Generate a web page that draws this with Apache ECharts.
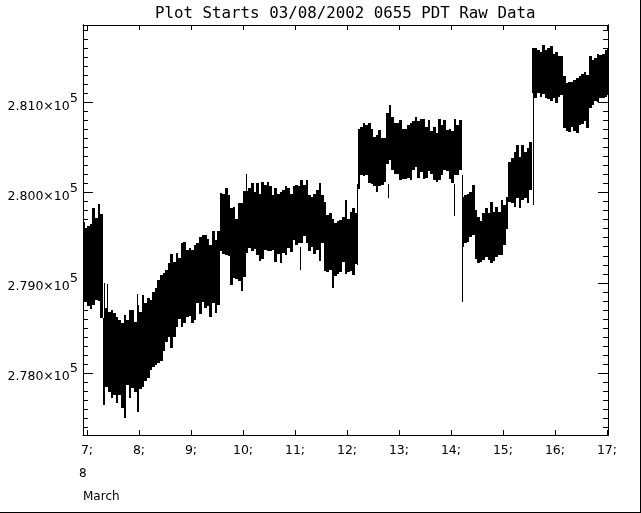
<!DOCTYPE html>
<html>
<head>
<meta charset="utf-8">
<script src="https://cdn.jsdelivr.net/npm/echarts@6/dist/echarts.min.js"></script>
<style>
html,body{margin:0;padding:0;background:#fff;}
#chart{width:640px;height:512px;border-right:1px solid #000;border-bottom:1px solid #000;}
</style>
</head>
<body>
<div id="chart"></div>
<script>
const title = "Plot Starts 03/08/2002 0655 PDT Raw Data";
const firstSampleDay = 6.93, sampleStepDays = 0.05;
// Envelope of the raw data, in hundreds of counts.
const highA = [2796.7,2796.1,2796.3,2796.5,2798.3,2797.2,2798.7,2797.6];
const lowA  = [2787.9,2788.0,2787.4,2787.1,2787.6,2788.1,2787.9,2786.1];
const highB = [2786.1,2787.2,2786.8,2787.0,2786.7,2786.2,2785.9,2785.5,2786.4,2785.9,2787.0,2787.0,2785.7,2787.5,2786.8,2788.6,2787.8,2788.3,2788.1,2789.0,2789.4,2790.3,2790.9,2791.1,2791.4,2792.2,2793.2,2792.3,2793.3,2792.7,2794.4,2794.5,2793.6,2793.9];
const lowB  = [2776.5,2778.4,2777.9,2777.2,2777.6,2776.7,2777.6,2776.1,2775.0,2778.7,2777.3,2778.4,2777.9,2775.6,2778.3,2778.4,2779.2,2779.4,2780.3,2780.7,2780.9,2781.1,2781.4,2782.5,2783.4,2784.0,2782.8,2784.0,2785.1,2785.9,2785.1,2785.5,2786.2,2786.4];
const highC = [2793.6,2794.2,2794.4,2795.1,2795.3,2795.3,2794.9,2794.2,2795.7,2794.7,2795.7,2800.0,2799.9,2800.5,2799.7,2798.3,2798.4,2797.1,2798.8,2798.8,2800.2,2800.2,2800.5,2801.1,2800.1,2801.1,2799.9,2801.2,2800.8,2801.2,2800.7,2799.7,2800.5,2799.9,2800.1,2800.3,2800.7,2800.5,2799.9,2800.7,2800.8];
const lowC  = [2785.5,2785.9,2787.7,2786.6,2787.9,2787.2,2787.5,2786.2,2787.7,2786.6,2787.5,2793.6,2793.3,2793.1,2792.9,2789.8,2790.5,2790.5,2790.1,2789.0,2790.7,2793.3,2793.8,2793.6,2793.8,2793.1,2792.5,2792.7,2793.6,2793.6,2793.5,2793.6,2792.3,2793.3,2792.2,2793.3,2793.1,2793.8,2793.5,2794.7,2794.2];
const highD = [2800.7,2801.4,2800.8,2801.4,2799.7,2799.5,2799.9,2800.3,2801.1,2799.7,2799.0,2797.5,2797.7,2797.1,2796.6,2796.8,2797.0,2797.3,2799.2,2797.1,2797.9,2798.3,2797.7,2807.1,2807.3,2807.7,2807.5,2807.7,2807.1,2806.2,2806.4,2806.9,2806.0,2806.0,2808.8,2809.7,2808.4,2807.7,2807.7,2808.0,2807.1,2807.1,2807.5];
const lowD  = [2794.4,2794.4,2795.1,2794.4,2793.5,2794.0,2793.3,2793.6,2792.5,2794.4,2791.4,2791.2,2791.4,2789.4,2790.7,2790.9,2791.2,2792.3,2791.0,2791.2,2791.4,2790.9,2792.0,2800.5,2802.0,2801.8,2802.0,2801.0,2801.0,2800.8,2800.1,2800.7,2800.8,2801.1,2803.2,2803.6,2802.5,2802.0,2802.0,2801.4,2801.6,2801.6,2801.6];
const highE = [2807.7,2807.9,2808.4,2807.9,2808.2,2808.2,2807.3,2808.0,2806.8,2807.3,2806.6,2808.2,2807.5,2808.0,2806.9,2807.1,2806.8,2808.2,2807.5,2808.0,2799.5,2799.7,2799.9,2800.1,2800.8,2798.1,2797.3,2796.8,2797.7,2798.3,2797.7,2799.0,2797.9,2798.4,2797.9,2799.2,2798.6,2799.5,2803.4,2803.8,2804.5,2805.3,2804.0];
const lowE  = [2801.4,2802.5,2802.9,2801.6,2802.3,2801.6,2801.6,2802.3,2802.0,2801.4,2801.2,2801.4,2802.0,2802.5,2802.3,2801.6,2801.0,2802.0,2802.0,2802.5,2794.0,2794.4,2794.6,2795.1,2795.3,2792.7,2792.2,2792.2,2792.5,2792.9,2792.5,2792.2,2792.5,2792.9,2793.1,2793.1,2794.2,2795.9,2799.0,2798.8,2798.4,2799.4,2798.4];
const highF = [2805.3,2804.5,2804.9,2805.6,2816.0,2816.0,2815.8,2815.6,2816.4,2815.8,2816.0,2816.2,2815.4,2815.6,2815.1,2815.1,2812.9,2812.1,2812.3,2812.3,2812.5,2812.7,2812.9,2813.2,2813.4,2813.0,2815.1,2814.7,2814.9,2815.4,2815.3,2815.4,2815.8,2816.0];
const lowF  = [2799.2,2799.4,2798.8,2800.3,2811.0,2810.5,2811.0,2810.6,2811.0,2810.5,2810.3,2810.1,2810.5,2809.9,2810.5,2810.8,2807.1,2806.8,2806.8,2807.3,2806.8,2806.6,2807.5,2807.7,2808.0,2807.1,2809.3,2809.7,2810.1,2810.1,2810.5,2810.5,2810.6,2810.8];
// Isolated one-sample excursions and the sharp level jumps.
const spikeDays   = [7.32,7.385,7.967,10.05,11.10,12.19,12.78,14.06,14.217,15.583];
const spikeTops   = [2790,2789.9,2788.8,2802.1,2794,2801,2801,2801,2802,2811];
const spikeBottoms= [2786,2787,2786,2800,2791.4,2792,2799.4,2797.5,2787.9,2798.6];
const dayTicks = [7,8,9,10,11,12,13,14,15,16,17];
const majorTicks = [278000,279000,280000,281000];
const minorTicks = [277400,277500,277600,277700,277800,277900,278100,278200,278300,278400,278500,278600,278700,278800,278900,279100,279200,279300,279400,279500,279600,279700,279800,279900,280100,280200,280300,280400,280500,280600,280700,280800,280900,281100,281200,281300,281400,281500,281600,281700,281800];
const dayMin = 6.923, dayMax = 17.02, valueMin = 277313, valueMax = 281858;

const highs = [...highA,...highB,...highC,...highD,...highE,...highF];
const lows  = [...lowA,...lowB,...lowC,...lowD,...lowE,...lowF];
const bands = highs.map((h,i)=>[firstSampleDay+i*sampleStepDays,h*100,lows[i]*100]);
const spikes = spikeDays.map((d,i)=>[d,spikeTops[i]*100,spikeBottoms[i]*100]);

const font = '"DejaVu Sans"';
function columns(thin){
  return function(params,api){
    const t = api.value(0);
    const a = api.coord([t,api.value(1)]);
    const b = api.coord([t,api.value(2)]);
    if(thin){
      return {type:'rect',shape:{x:Math.round(a[0]),y:Math.round(a[1]),width:1,height:Math.round(b[1]-a[1])},style:{fill:'#000',stroke:null}};
    }
    const p = api.coord([t-sampleStepDays/2,api.value(1)]);
    const n = api.coord([t+sampleStepDays/2,api.value(1)]);
    const l = Math.round(p[0]), r = Math.round(n[0]);
    return {type:'rect',shape:{x:l,y:Math.round(a[1]),width:r-l,height:Math.round(b[1]-a[1])},style:{fill:'#000',stroke:null}};
  };
}
const line = {show:true,lineStyle:{color:'#000',width:1}};
function xAx(position,labels){
  return {type:'value',position,min:dayMin,max:dayMax,splitLine:{show:false},axisLine:Object.assign({onZero:false},line),
    axisTick:{show:true,inside:true,length:5,lineStyle:{color:'#000',width:1},customValues:dayTicks},
    axisLabel:labels?{show:true,customValues:dayTicks,margin:9,color:'#000',fontFamily:font,fontSize:12.5,formatter:v=>v+';',hideOverlap:false,showMinLabel:true,showMaxLabel:true}:{show:false}};
}
function yAx(position,ticks,len,labels){
  return {type:'value',position,min:valueMin,max:valueMax,splitLine:{show:false},axisLine:Object.assign({onZero:false},line),
    axisTick:{show:true,inside:true,length:len,lineStyle:{color:'#000',width:1},customValues:ticks},
    axisLabel:labels?{show:true,customValues:ticks,margin:5,color:'#000',fontFamily:font,
      formatter:v=>'{m|'+(v/100000).toFixed(3)+'×10}{s|5}',
      rich:{m:{fontFamily:font,fontSize:12.5,color:'#000',padding:[8,0,0,0]},s:{fontFamily:font,fontSize:13,color:'#000',padding:[0,0,8,0]}}}:{show:false}};
}
const chart = echarts.init(document.getElementById('chart'),null,{renderer:'canvas'});
chart.setOption({
  animation:false,
  backgroundColor:'#fff',
  title:[
    {text:title,left:155,top:6,padding:0,textStyle:{fontFamily:'"DejaVu Sans Mono"',fontSize:15.8,fontWeight:'normal',color:'#000'}},
    {text:'8',left:79,top:468,padding:0,textStyle:{fontFamily:font,fontSize:12,fontWeight:'normal',color:'#000'}},
    {text:'March',left:83,top:491,padding:0,textStyle:{fontFamily:font,fontSize:12,fontWeight:'normal',color:'#000'}}
  ],
  grid:{left:83,right:32,top:25,bottom:77,containLabel:false},
  xAxis:[xAx('bottom',true),xAx('top',false)],
  yAxis:[yAx('left',majorTicks,10,true),yAx('left',minorTicks,5,false),yAx('right',majorTicks,10,false),yAx('right',minorTicks,5,false)],
  series:[
    {type:'custom',renderItem:columns(false),data:bands,clip:true,silent:true,encode:{x:0,y:[1,2]}},
    {type:'custom',renderItem:columns(true),data:spikes,clip:true,silent:true,encode:{x:0,y:[1,2]}}
  ]
});
</script>
</body>
</html>
